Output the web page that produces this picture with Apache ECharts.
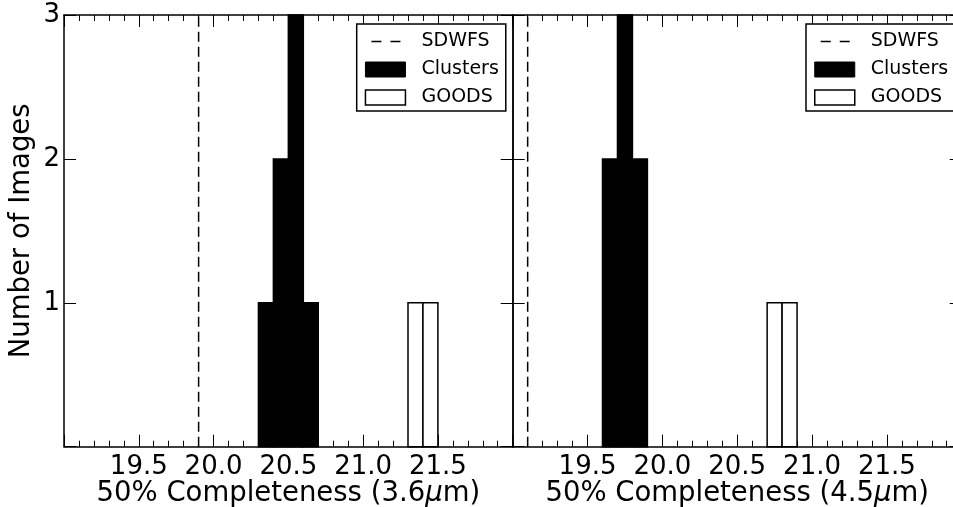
<!DOCTYPE html>
<html>
<head>
<meta charset="utf-8">
<script src="https://cdn.jsdelivr.net/npm/echarts@6/dist/echarts.min.js"></script>
<style>
  html, body { margin: 0; padding: 0; background: #fff; }
  #chart { width: 953px; height: 507px; }
</style>
</head>
<body>
<div id="chart"></div>
<script>
const binWidth = 0.1

// 3.6 micron panel
const clusters36Start = [20.3, 20.4, 20.5, 20.6]
const clusters36Count = [1, 2, 3, 1]
const goods36Start = [21.3, 21.4]
const goods36Count = [1, 1]
const sdwfs36 = 19.9

// 4.5 micron panel
const clusters45Start = [19.6, 19.7, 19.8]
const clusters45Count = [2, 3, 2]
const goods45Start = [20.7, 20.8]
const goods45Count = [1, 1]
const sdwfs45 = 19.1

const xMin = 19.0
const xMax = 22.0
const yTicks = [0, 1, 2, 3]
const legendNames = ['SDWFS', 'Clusters', 'GOODS']

const FONT = 'DejaVu Sans'

// two short dashes, with tiny corner dots so the icon keeps a 40x15 box
const DASH_ICON = 'path://M0,0h0.01v0.01h-0.01z M40,15h-0.01v-0.01h0.01z M6,6.75h10v1.5h-10z M25,6.75h10v1.5h-10z'

function bins(starts, counts) {
  return starts.map((s, i) => [s, s + binWidth, counts[i]])
}

function histRender(fill) {
  return function (params, api) {
    const top = api.coord([api.value(0), api.value(2)])
    const bottom = api.coord([api.value(1), 0])
    return {
      type: 'rect',
      shape: { x: top[0], y: top[1], width: bottom[0] - top[0], height: bottom[1] - top[1] },
      style: { fill: fill, stroke: '#000', lineWidth: 1.5 },
    }
  }
}

function xAxes(grid, name) {
  const base = {
    gridIndex: grid,
    type: 'value',
    min: xMin,
    max: xMax,
    interval: 0.5,
    axisLine: { show: true, onZero: false, lineStyle: { color: '#000', width: 1.5 } },
    axisTick: { show: true, inside: true, length: 12, lineStyle: { color: '#000', width: 1 } },
    minorTick: { show: true, splitNumber: 5, length: 6, lineStyle: { color: '#000', width: 1 } },
    splitLine: { show: false },
  }
  return [
    Object.assign({}, base, {
      position: 'bottom',
      name: name,
      nameLocation: 'middle',
      nameMoveOverlap: false,
      nameGap: 33,
      nameTextStyle: {
        fontFamily: FONT, fontSize: 27.5, color: '#000',
        rich: { i: { fontFamily: FONT, fontSize: 27.5, color: '#000', fontStyle: 'italic' } },
      },
      axisLabel: {
        fontFamily: FONT, fontSize: 26, color: '#000', margin: 8,
        showMinLabel: false, showMaxLabel: false,
        formatter: (v) => v.toFixed(1),
      },
    }),
    Object.assign({}, base, { position: 'top', axisLabel: { show: false } }),
  ]
}

function yAxes(grid, showLabels) {
  const base = {
    gridIndex: grid,
    type: 'value',
    min: yTicks[0],
    max: yTicks[yTicks.length - 1],
    interval: 1,
    axisLine: { show: true, onZero: false, lineStyle: { color: '#000', width: 1.5 } },
    axisTick: { show: true, inside: true, length: 12, lineStyle: { color: '#000', width: 1 } },
    splitLine: { show: false },
  }
  const left = Object.assign({}, base, {
    position: 'left',
    axisLabel: {
      show: showLabels, fontFamily: FONT, fontSize: 26, color: '#000', margin: 4,
      formatter: (v) => (v === 0 ? '' : String(v)),
    },
  })
  if (showLabels) {
    left.name = 'Number of Images'
    left.nameLocation = 'middle'
    left.nameMoveOverlap = false
    left.nameGap = 28
    left.nameTextStyle = { fontFamily: FONT, fontSize: 27.5, color: '#000' }
  }
  return [left, Object.assign({}, base, { position: 'right', axisLabel: { show: false } })]
}

function legend(left) {
  return {
    left: left,
    top: 24,
    orient: 'vertical',
    selectedMode: false,
    backgroundColor: '#fff',
    borderColor: '#000',
    borderWidth: 1.5,
    borderRadius: 0,
    padding: [7.5, 7, 3.5, 8],
    itemWidth: 40,
    itemHeight: 15,
    itemGap: 8,
    textStyle: { fontFamily: FONT, fontSize: 19, color: '#000', lineHeight: 20, padding: [0, 0, 0, 11] },
    data: [
      { name: legendNames[0], icon: DASH_ICON, itemStyle: { color: '#000', borderWidth: 0 } },
      { name: legendNames[1], icon: 'rect', itemStyle: { color: '#000', borderColor: '#000', borderWidth: 1 } },
      { name: legendNames[2], icon: 'rect', itemStyle: { color: '#fff', borderColor: '#000', borderWidth: 1.5 } },
    ],
  }
}

function panelSeries(xi, yi, sdwfs, cStart, cCount, gStart, gCount) {
  return [
    {
      name: legendNames[0], type: 'line', xAxisIndex: xi, yAxisIndex: yi,
      data: [[sdwfs, yTicks[0]], [sdwfs, yTicks[yTicks.length - 1]]],
      symbol: 'none', silent: true, z: 3,
      itemStyle: { color: '#000' },
      lineStyle: { color: '#000', width: 1.5, type: [10, 5] },
    },
    {
      name: legendNames[1], type: 'custom', xAxisIndex: xi, yAxisIndex: yi,
      renderItem: histRender('#000'), data: bins(cStart, cCount),
      itemStyle: { color: '#000' }, silent: true, z: 2,
    },
    {
      name: legendNames[2], type: 'custom', xAxisIndex: xi, yAxisIndex: yi,
      renderItem: histRender('#fff'), data: bins(gStart, gCount),
      itemStyle: { color: '#fff', borderColor: '#000', borderWidth: 1.5 }, silent: true, z: 2,
    },
  ]
}

const chart = echarts.init(document.getElementById('chart'), null, { renderer: 'canvas' })

chart.setOption({
  animation: false,
  backgroundColor: '#fff',
  grid: [
    { left: 64, top: 15, width: 448.7, height: 431.7, outerBoundsMode: 'none' },
    { left: 512.7, top: 15, width: 449, height: 431.7, outerBoundsMode: 'none' },
  ],
  xAxis: [].concat(
    xAxes(0, '50% Completeness (3.6{i|μ}m)'),
    xAxes(1, '50% Completeness (4.5{i|μ}m)')
  ),
  yAxis: [].concat(yAxes(0, true), yAxes(1, false)),
  legend: [legend(356.7), legend(806)],
  series: [].concat(
    panelSeries(0, 0, sdwfs36, clusters36Start, clusters36Count, goods36Start, goods36Count),
    panelSeries(2, 2, sdwfs45, clusters45Start, clusters45Count, goods45Start, goods45Count)
  ),
})
</script>
</body>
</html>
